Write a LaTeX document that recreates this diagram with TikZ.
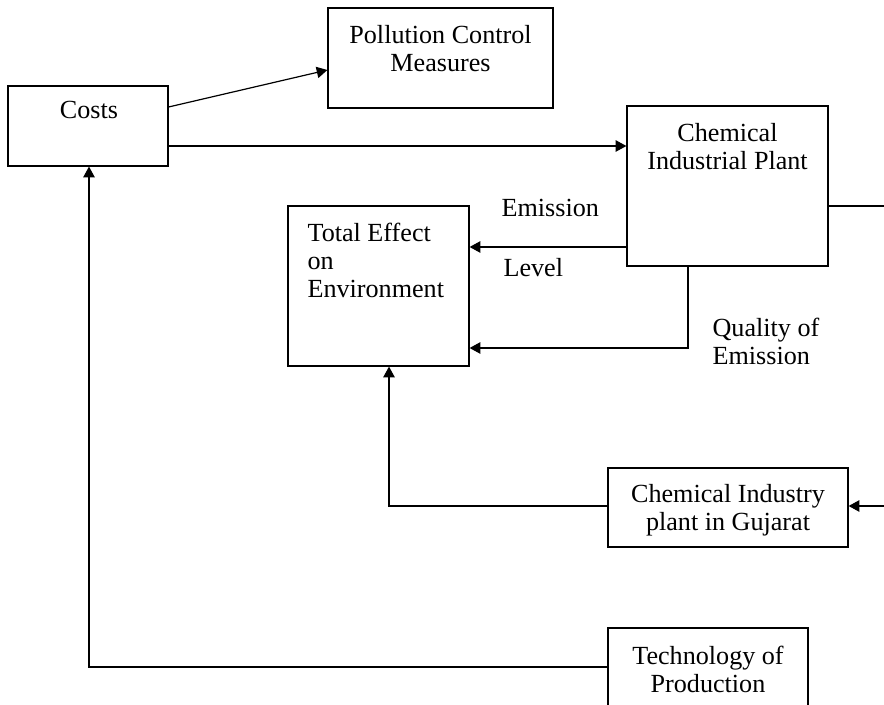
\documentclass[tikz,border=0pt]{standalone}
\usepackage{fontspec}
\setmainfont{Liberation Serif}
\usetikzlibrary{arrows.meta,fit}
\begin{document}
\begin{tikzpicture}[x=0.75pt,y=-0.75pt,
  line width=0.9pt,
  box/.style={draw, inner sep=0pt},
  txt/.style={inner sep=0pt, anchor=north, align=center,
    font=\fontsize{19.6}{21}\selectfont, execute at begin node=\strut},
  ltxt/.style={txt, anchor=north west, align=left},
  arr/.style={-{Triangle[length=8pt,width=8.5pt]}}]
\useasboundingbox (0,0) rectangle (884,705);
\clip (0,0) rectangle (884,705);

% boxes
\node[box, fit={(8,86) (168,166)}]   (costs) {};
\node[box, fit={(328,8) (553,108)}]  (pcm)   {};
\node[box, fit={(627,106) (828,266)}] (cip)  {};
\node[box, fit={(288,206) (469,366)}] (tee)  {};
\node[box, fit={(608,468) (848,547)}] (guj)  {};
\node[box, fit={(608,628) (808,720)}] (tech) {};

% box texts
\node[txt] (costs-t) at (89,98.4)   {Costs};
\node[txt] (pcm-t)   at (440.5,24.4)  {Pollution Control\\Measures};
\node[txt] (cip-t)   at (727.5,122.4) {Chemical\\Industrial Plant};
\node[ltxt] (tee-t)  at (307,222.4) {Total Effect\\on\\Environment};
\node[txt] (guj-t)   at (728,483.4) {Chemical Industry\\plant in Gujarat};
\node[txt] (tech-t)  at (708,645.4) {Technology of\\Production};

% connector labels
\node[ltxt] (lab-em)  at (501,196.4) {Emission};
\node[ltxt] (lab-lv)  at (503,256.4) {Level};
\node[ltxt] (lab-q)   at (712,317.4) {Quality of\\Emission};

% free ends at the right margin
\coordinate (out) at (884,206);
\coordinate (in1) at (884,506);

% connectors
\draw[arr] (costs.east |- 0,107) -- (pcm.west |- 0,70);
\draw[arr] (costs.east |- 0,146) -- (cip.west |- 0,146);
\draw[arr] (cip.west |- 0,247) -- (tee.east |- 0,247);
\draw[arr] (cip.south -| 688,0) |- (tee.east |- 0,348);
\draw[arr] (guj.west |- 0,506) -| (tee.south -| 389,0);
\draw[arr] (tech.west |- 0,667) -| (costs.south -| 89,0);
\draw (cip.east |- out) -- (out);
\draw[arr] (in1) -- (guj.east |- in1);
\end{tikzpicture}
\end{document}
